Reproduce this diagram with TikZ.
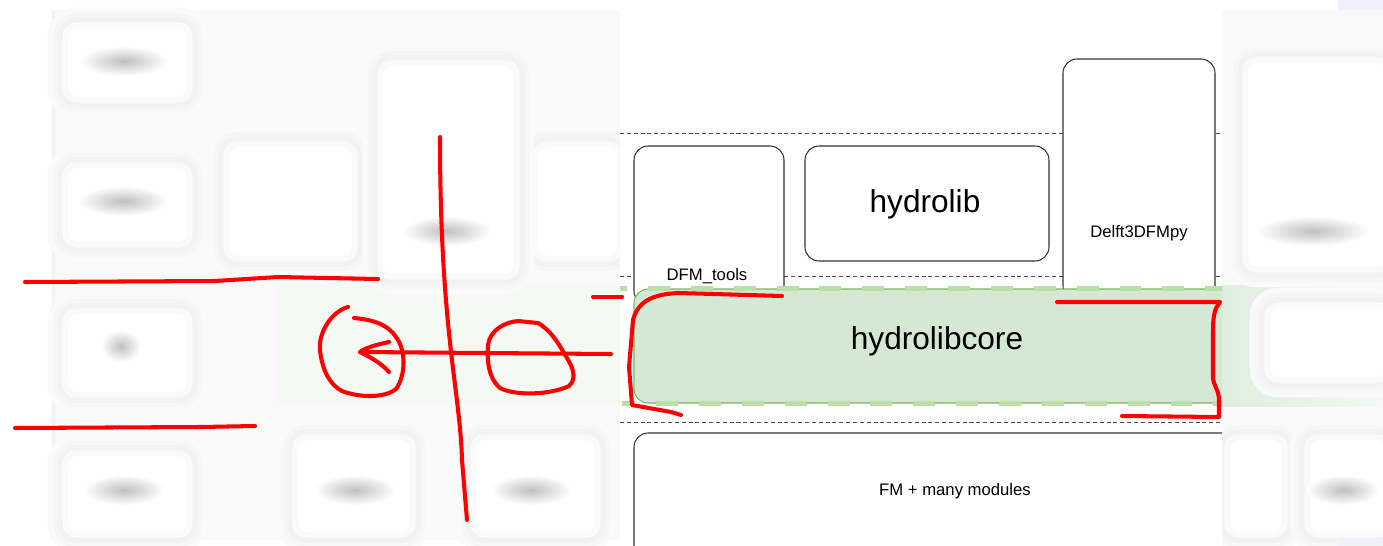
\documentclass[tikz,border=0pt]{standalone}
\usepackage{fontspec}
\setmainfont{Liberation Sans}
\definecolor{gfill}{HTML}{D5E8D4}
\definecolor{gline}{HTML}{82B366}
\definecolor{gdash}{HTML}{B9E0A5}
\definecolor{paleblue}{HTML}{EEF1FD}
\definecolor{annot}{HTML}{FF0000}
\newcommand\softbox[4]{%
  \draw[gray!4, line width=14pt, rounded corners=9pt] (#1,#2) rectangle (#3,#4);
  \draw[gray!7, line width=8pt, rounded corners=9pt] (#1,#2) rectangle (#3,#4);
  \draw[gray!10, line width=3pt, rounded corners=9pt, fill=white] (#1,#2) rectangle (#3,#4);
  \draw[gray!4, line width=3pt, rounded corners=7pt] ([xshift=3pt,yshift=-3pt]#1,#2) rectangle ([xshift=-3pt,yshift=3pt]#3,#4);}
\newcommand\blob[4]{%
  \shade[inner color=gray!50, outer color=white] (#1,#2) ellipse ({#3} and {#4});}
\begin{document}
\begin{tikzpicture}[x=0.02cm,y=-0.02cm,
  fbox/.style={draw=black!80, line width=0.6pt, rounded corners=8pt, fill=white},
  sep/.style={draw=black!70, line width=0.55pt, dash pattern=on 2.3pt off 1.6pt},
  gdashed/.style={draw=gdash, line width=3.4pt, dash pattern=on 12.5pt off 11.9pt},
  big/.style={font=\fontsize{18}{20}\selectfont},
  small/.style={font=\fontsize{9.5}{11}\selectfont},
  redline/.style={draw=annot, line width=2.3pt, line cap=round, line join=round}]
\useasboundingbox (0,0) rectangle (1383,545);
\fill[white] (0,0) rectangle (1383,545);
% ---------- blurred left part ----------
\fill[gray!5] (52,10) rectangle (620,540);
\fill[gray!10] (52,10) rectangle (55,540);
\fill[gfill!25] (277,285) rectangle (620,403);
\softbox{221}{139}{360}{264}
\softbox{530}{139}{625}{264}
\softbox{60}{20}{195}{105}
\softbox{60}{160}{195}{250}
\softbox{60}{306}{195}{400}
\softbox{60}{448}{195}{540}
\softbox{375}{58}{522}{282}
\softbox{290}{432}{418}{540}
\softbox{468}{432}{603}{540}
\blob{124}{61}{44}{15}
\blob{123}{201}{45}{15}
\blob{121}{346}{20}{16}
\blob{124}{490}{40}{15}
\blob{447}{231}{44}{15}
\blob{355}{490}{40}{15}
\blob{531}{490}{40}{15}
% ---------- blurred right part ----------
\fill[gray!5] (1222,10) rectangle (1383,540);
\shade[left color=gfill!75, right color=gfill!30] (1222,285) rectangle (1383,406);
\softbox{1240}{55}{1395}{275}
\softbox{1262}{300}{1395}{385}
\softbox{1222}{432}{1290}{540}
\softbox{1302}{432}{1395}{540}
\blob{1313}{231}{56}{15}
\blob{1343}{490}{36}{15}
\fill[paleblue] (1338,0) rectangle (1383,10);
\fill[paleblue] (1338,538) rectangle (1383,545);
% ---------- clear middle part ----------
\begin{scope}
\clip (620,0) rectangle (1222,545);
\fill[white] (620,0) rectangle (1222,545);
\draw[sep] (620,133) -- (1222,133);
\draw[sep] (620,276) -- (1222,276);
\draw[sep] (620,422) -- (1222,422);
\draw[fbox] (634,146) rectangle (784,305);
\draw[fbox] (1063,59) rectangle (1215,300);
\draw[fbox] (805,146) rectangle (1049,261);
\draw[fill=gfill, draw=gline, line width=0.6pt, rounded corners=8pt] (634,289) rectangle (1245,403);
\draw[gdashed, dash phase=8.5pt] (620,288.5) -- (1222,288.5);
\draw[gdashed, dash phase=5pt] (622,403.5) -- (1222,403.5);
\draw[fbox] (634,433) rectangle (1245,560);
\end{scope}
\node[small] (dfmtools) at (707,276) {DFM\_tools};
\node[big] (hydrolib) at (925,204) {hydrolib};
\node[small] (delft) at (1139,233) {Delft3DFMpy};
\node[big] (core) at (937,341) {hydrolibcore};
\node[small] (fm) at (955,491) {FM + many modules};
% ---------- red annotations ----------
\coordinate (tipL) at (360,352);
\coordinate (tailR) at (611,354);
\draw[redline] (25,282) -- (215,281) -- (278,277) -- (378,279);
\draw[redline] (15,428) -- (200,427) -- (255,426);
\draw[redline] (440,137) .. controls (440,330) and (460,390) .. (462,460) -- (467,520);
\draw[redline] (348,307) .. controls (330,312) and (318,335) .. (320,350)
  .. controls (322,370) and (330,385) .. (342,391)
  .. controls (360,398) and (385,398) .. (396,389)
  .. controls (406,375) and (406,350) .. (396,337)
  .. controls (388,325) and (375,320) .. (354,318);
\draw[redline] (tailR) -- (tipL);
\draw[redline] (389,342) .. controls (375,345) and (365,348) .. (tipL) .. controls (372,358) and (382,364) .. (389,372);
\draw[redline] (518,321) .. controls (505,322) and (490,330) .. (488,345)
  .. controls (487,360) and (488,378) .. (500,388)
  .. controls (515,396) and (550,395) .. (569,386)
  .. controls (578,378) and (572,365) .. (565,355)
  .. controls (558,342) and (550,330) .. (538,323) -- (518,321);
\draw[redline] (593,297) -- (622,297);
\draw[redline] (782,296) -- (679,293) .. controls (655,294) and (638,300) .. (633,320)
  -- (629,367) -- (632,405) -- (671,412) -- (681,415);
\draw[redline] (1057,302) -- (1220,302) .. controls (1215,308) and (1213,315) .. (1213,330)
  -- (1213,377) .. controls (1213,385) and (1219,390) .. (1219,400) -- (1219,417) -- (1122,416);
\end{tikzpicture}
\end{document}
